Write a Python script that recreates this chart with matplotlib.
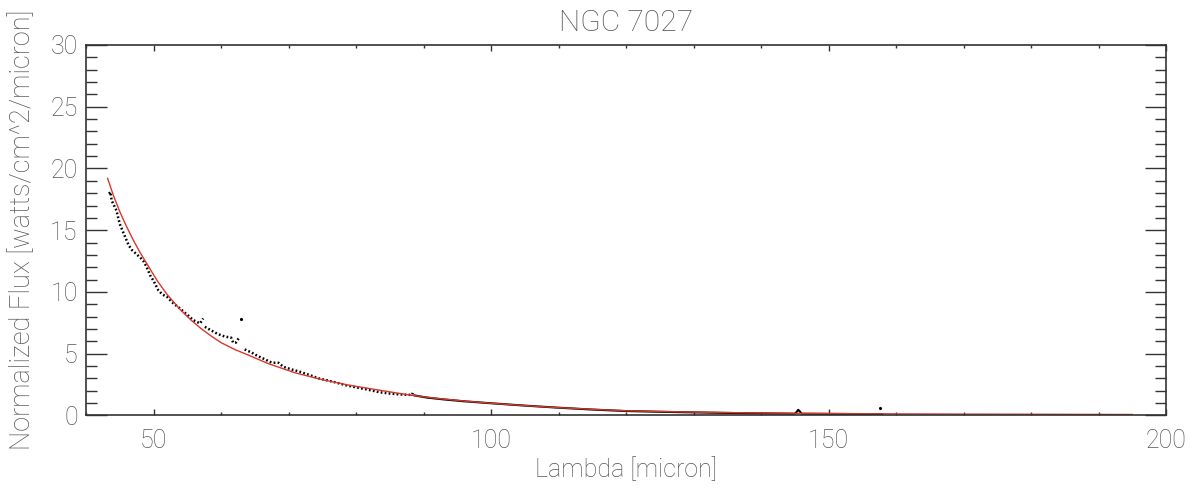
import numpy as np
import matplotlib
matplotlib.use("Agg")
import matplotlib.pyplot as plt
from matplotlib.ticker import MultipleLocator

# model fit (red)
fit_lam = [43.2, 44, 45, 46, 47, 48, 49, 50.5, 52, 54, 55.5, 57, 58.5, 60,
           62, 64, 67, 71, 75, 79, 84, 88, 92, 96, 100, 105, 110, 115, 120,
           130, 140, 150, 160, 170, 180, 195]
fit_flux = [19.2, 17.9, 16.5, 15.3, 14.2, 13.2, 12.3, 10.95, 9.8, 8.55, 7.75,
            7.05, 6.45, 5.9, 5.35, 4.9, 4.2, 3.45, 2.9, 2.45, 2.0, 1.65, 1.38,
            1.17, 0.99, 0.8, 0.63, 0.5, 0.38, 0.27, 0.2, 0.16, 0.13, 0.11,
            0.1, 0.08]

# observed spectrum, short wavelength part (scattered points)
lam_a = [43.4, 43.6, 43.8, 44.5, 45.0, 45.8, 46.3, 46.8, 47.4, 48.0, 48.5,
         49.0, 49.5, 50.0, 50.7, 51.3, 52.0, 52.9, 53.9, 54.9, 55.9, 56.9,
         57.35]
flux_a = [17.96, 18.1, 17.4, 16.6, 15.5, 14.45, 13.8, 13.4, 13.1, 12.8, 12.5,
          12.0, 11.35, 10.9, 10.15, 9.8, 9.6, 9.1, 8.67, 8.2, 7.72, 7.45,
          7.86]
lam_b = [57.6, 58.5, 59.5, 60.5, 61.5, 61.8, 62.2, 62.6]
flux_b = [7.18, 6.9, 6.6, 6.4, 6.3, 5.9, 5.9, 6.24]
lam_c = [63.5, 64.5, 65.5, 66.5, 67.2, 67.6, 68.5, 69.2, 70.5, 71.7, 73.0,
         74.5, 76.6, 78.5, 80.0, 81.5, 83.5, 85.0, 86.4, 88.3, 88.5]
flux_c = [5.35, 5.1, 4.8, 4.55, 4.35, 4.27, 4.27, 3.95, 3.72, 3.54, 3.3,
          3.0, 2.73, 2.45, 2.28, 2.12, 1.88, 1.78, 1.71, 1.66, 2.0]

# long wavelength part (dense, drawn as a line)
lam_d = [88.7, 90.5, 93, 96, 100, 105, 110, 115, 120, 125, 130, 137, 142,
         145, 145.3, 145.5, 145.8, 146, 150, 155, 157.9]
flux_d = [1.62, 1.45, 1.3, 1.15, 0.99, 0.8, 0.63, 0.48, 0.36, 0.3, 0.25,
          0.19, 0.16, 0.14, 0.3, 0.46, 0.3, 0.14, 0.13, 0.11, 0.1]

# stray points
lam_s = [62.9, 157.6]
flux_s = [7.8, 0.62]

txt = "#555555"
plt.rcParams["font.family"] = ["Roboto", "DejaVu Sans"]
plt.rcParams["font.weight"] = "light"
plt.rcParams["axes.labelweight"] = "light"
plt.rcParams["axes.titleweight"] = "light"
plt.rcParams["font.size"] = 18

fig = plt.figure(figsize=(12, 4.88), dpi=100)
ax = fig.add_axes([0.0717, 0.1486, 0.9, 0.7592])

dots = dict(color="k", lw=1.8, ls=(0, (0.7, 0.9)))
ax.plot(lam_a, flux_a, **dots)
ax.plot(lam_b, flux_b, **dots)
ax.plot(lam_c, flux_c, **dots)
ax.plot(lam_d, flux_d, color="k", lw=1.5)
ax.plot(lam_s, flux_s, "k.", ms=2.5)
ax.plot(fit_lam, fit_flux, color="#d8372b", lw=1.0)

ax.set_xlim(40, 200)
ax.set_ylim(0, 30)
ax.xaxis.set_major_locator(MultipleLocator(50))
ax.xaxis.set_minor_locator(MultipleLocator(10))
ax.yaxis.set_major_locator(MultipleLocator(5))
ax.yaxis.set_minor_locator(MultipleLocator(1))

ax.tick_params(axis="x", which="both", direction="in", top=True,
               colors="#333333", labelcolor=txt, pad=10)
ax.tick_params(axis="x", which="major", length=4.3, width=1)
ax.tick_params(axis="x", which="minor", length=2.2, width=1)
ax.tick_params(axis="y", which="both", direction="in", right=True,
               colors="#333333", labelcolor=txt, pad=6)
ax.tick_params(axis="y", which="major", length=15, width=1)
ax.tick_params(axis="y", which="minor", length=8, width=1)
for s in ax.spines.values():
    s.set_color("#333333")
    s.set_linewidth(1.2)

fig.canvas.draw()
ylabs = ax.get_yticklabels()
ylabs[0].set_va("bottom")
ylabs[-1].set_va("top")

ax.set_xlabel("Lambda [micron]", color=txt, labelpad=3)
ax.set_ylabel("Normalized Flux [watts/cm^2/micron]", color=txt, labelpad=10,
              fontsize=19.5)
ax.set_title("NGC 7027", color=txt, pad=10)

fig.savefig("out.png", dpi=100)
